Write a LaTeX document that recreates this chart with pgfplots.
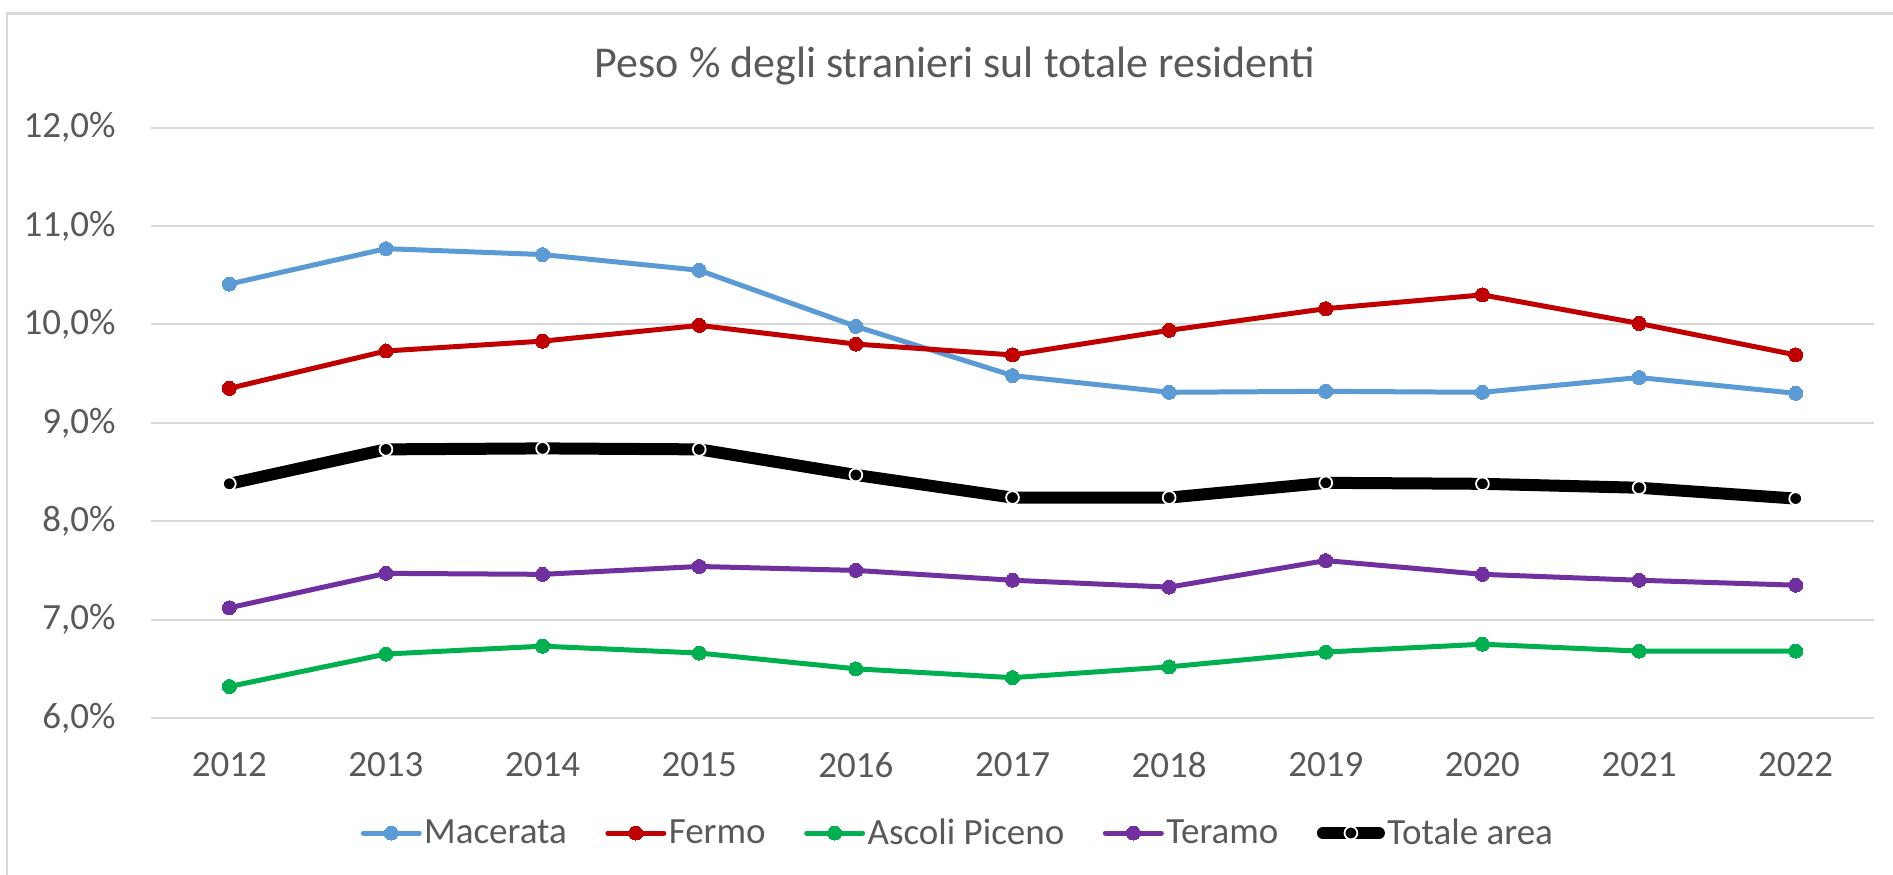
\documentclass[border=0pt]{standalone}
\usepackage{pgfplots}
\usepackage{pgfplotstable}
\pgfplotsset{compat=1.18}
\usepackage{fontspec}
\setmainfont{Carlito}
\definecolor{txt}{HTML}{595959}
\definecolor{grd}{HTML}{D9D9D9}
\definecolor{cMac}{HTML}{5B9BD5}
\definecolor{cFer}{HTML}{C00000}
\definecolor{cAsc}{HTML}{00B050}
\definecolor{cTer}{HTML}{7030A0}

\pgfplotstableread{
year Mac Fer Asc Ter Tot
2012 10.41 9.35 6.32 7.12 8.38
2013 10.77 9.73 6.65 7.47 8.73
2014 10.71 9.83 6.73 7.46 8.74
2015 10.55 9.99 6.66 7.54 8.73
2016 9.98 9.80 6.50 7.50 8.47
2017 9.48 9.69 6.41 7.40 8.24
2018 9.31 9.94 6.52 7.33 8.24
2019 9.32 10.16 6.67 7.60 8.39
2020 9.31 10.30 6.75 7.46 8.38
2021 9.46 10.01 6.68 7.40 8.34
2022 9.30 9.69 6.68 7.35 8.23
}\datatable

\begin{document}
\begin{tikzpicture}
\begin{axis}[
  at={(0pt,0pt)}, anchor=south west,
  scale only axis, width=861.5pt, height=295.2pt,
  xmin=2011.5, xmax=2022.5, ymin=6, ymax=12,
  xtick={2012,2013,2014,2015,2016,2017,2018,2019,2020,2021,2022},
  xticklabels={2012,2013,2014,2015,2016,2017,2018,2019,2020,2021,2022},
  ytick={6,7,8,9,10,11,12},
  yticklabels={{6,0\%},{7,0\%},{8,0\%},{9,0\%},{10,0\%},{11,0\%},{12,0\%}},
  axis line style={draw=none},
  major tick length=0pt,
  ymajorgrids, grid style={grd, line width=1pt},
  tick label style={font=\fontsize{18.5}{22}\selectfont, text=txt},
  xticklabel style={anchor=north, inner sep=0pt, yshift=-17pt},
  yticklabel style={anchor=east, inner sep=0pt, xshift=-17.5pt},
  /pgf/number format/assume math mode=true,
  legend columns=5,
  legend style={draw=none, fill=none, at={(0.4684,-0.1948)}, anchor=center,
    font=\fontsize{18.5}{22}\selectfont, text=txt,
    nodes={inner sep=1.25pt},
    /tikz/every even column/.append style={column sep=18pt}},
  legend cell align=left,
  legend image code/.code={\draw[mark repeat=2, mark phase=2] plot coordinates {(0pt,0pt)(14pt,0pt)(28pt,0pt)};},
  title={Peso \% degli stranieri sul totale residenti},
  every axis title/.style={at={(0.4666,1.0857)}, anchor=base, font=\fontsize{22}{26}\selectfont, text=txt, inner sep=0pt},
  clip=false,
]
\addplot[cMac, line width=2.5pt, line cap=round, line join=round, mark=*, mark size=3.5pt, mark options={solid, fill=cMac, draw=cMac, line width=0pt}] table[x=year, y=Mac] {\datatable};
\addlegendentry{Macerata}
\addplot[cFer, line width=2.5pt, line cap=round, line join=round, mark=*, mark size=3.5pt, mark options={solid, fill=cFer, draw=cFer, line width=0pt}] table[x=year, y=Fer] {\datatable};
\addlegendentry{Fermo}
\addplot[cAsc, line width=2.5pt, line cap=round, line join=round, mark=*, mark size=3.5pt, mark options={solid, fill=cAsc, draw=cAsc, line width=0pt}] table[x=year, y=Asc] {\datatable};
\addlegendentry{Ascoli Piceno}
\addplot[cTer, line width=2.5pt, line cap=round, line join=round, mark=*, mark size=3.5pt, mark options={solid, fill=cTer, draw=cTer, line width=0pt}] table[x=year, y=Ter] {\datatable};
\addlegendentry{Teramo}
\addplot[black, line width=6pt, line cap=round, line join=round, mark=*, mark size=3.2pt, mark options={solid, fill=black, draw=white, line width=0.9pt}] table[x=year, y=Tot] {\datatable};
\addlegendentry{Totale area}
\end{axis}
\draw[grd, line width=1.2pt] (-72pt,-95pt) -- (-72pt,352.25pt) -- (890pt,352.25pt);
\pgfresetboundingbox
\useasboundingbox (-75.5pt,-78pt) rectangle (871pt,359pt);
\end{tikzpicture}
\end{document}
